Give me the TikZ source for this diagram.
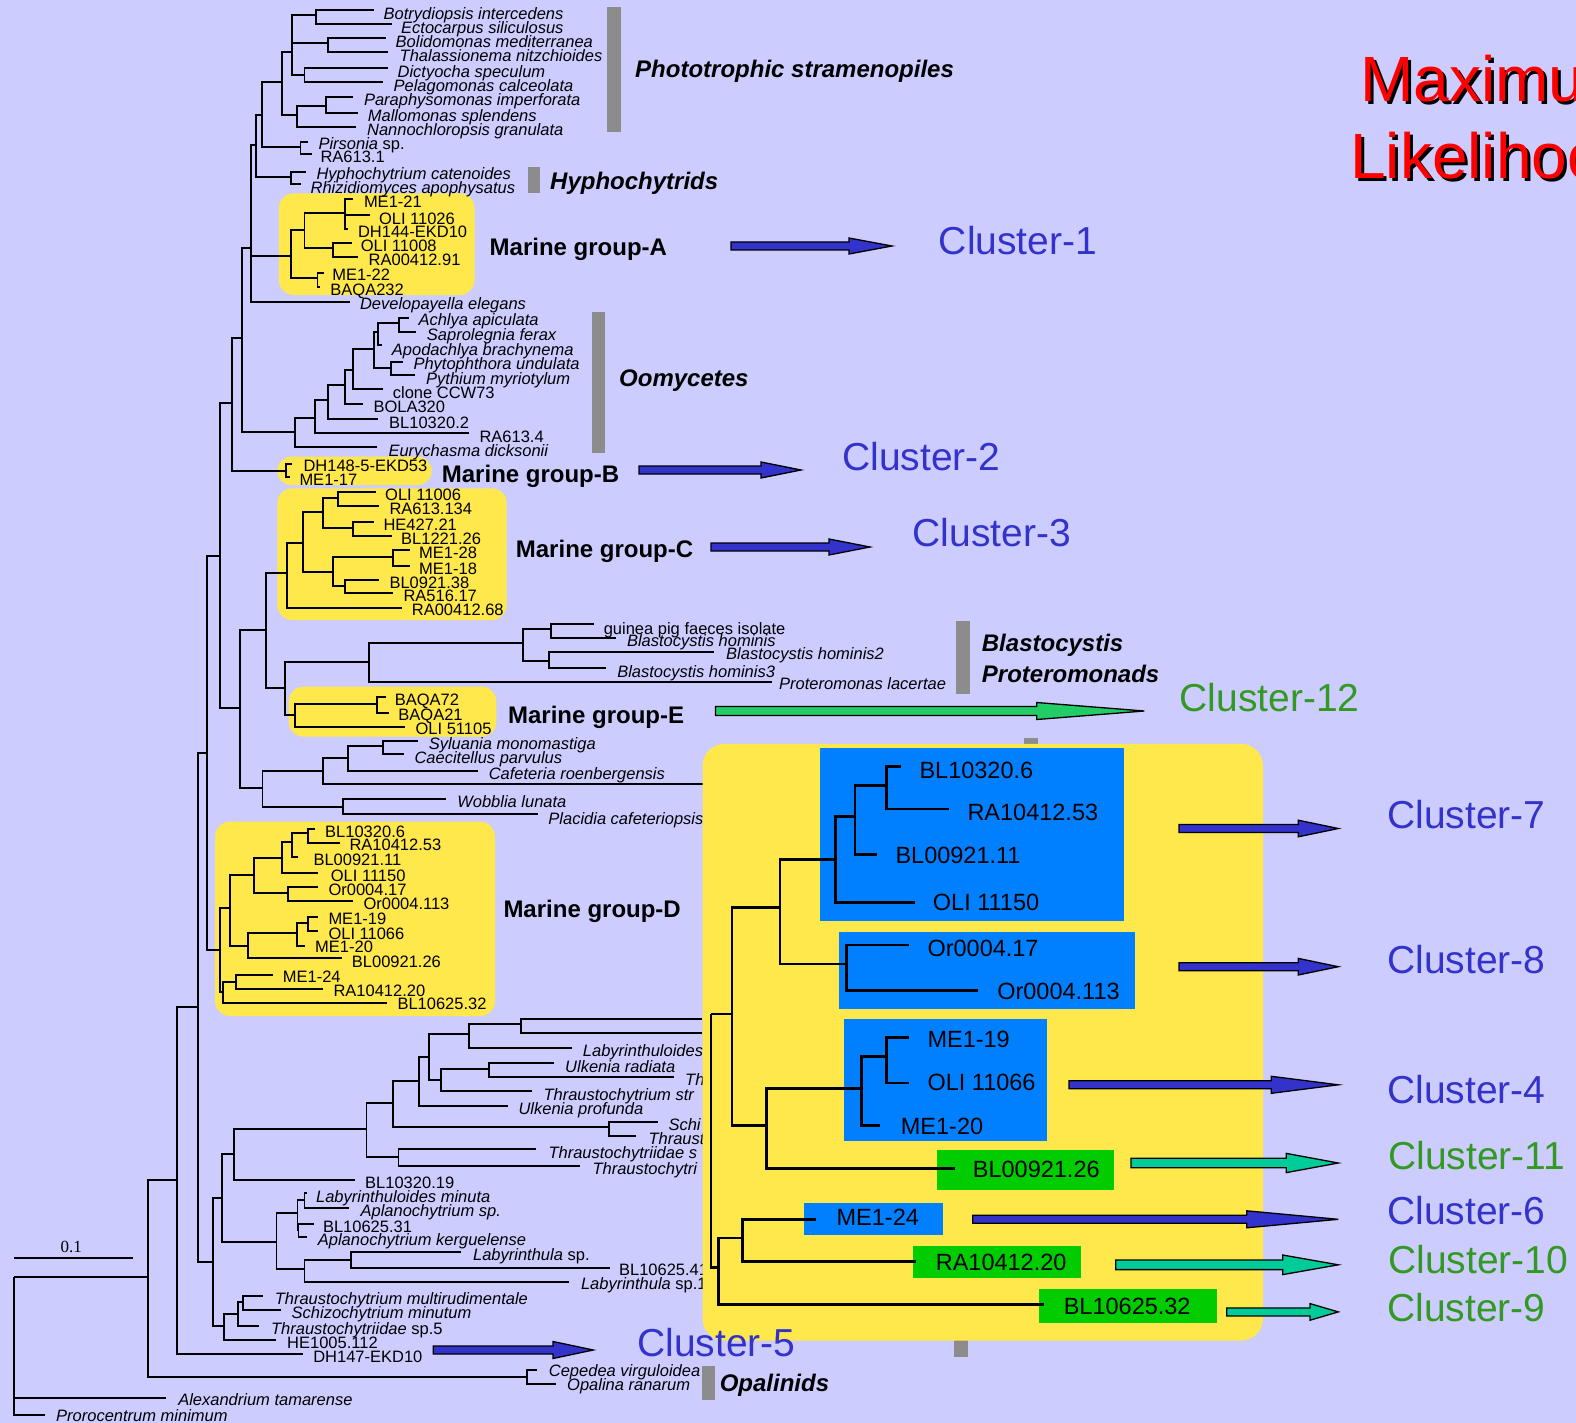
\documentclass[tikz,border=0pt]{standalone}
\usepackage{fontspec}
\setmainfont{Liberation Sans}
\newfontfamily\barfont{Liberation Serif}
\usetikzlibrary{calc}

\definecolor{bg}{HTML}{CCCCFF}
\definecolor{ylw}{HTML}{FFE84C}
\definecolor{bbox}{HTML}{0080FF}
\definecolor{gbox}{HTML}{00CC00}
\definecolor{arrB}{HTML}{3333CC}
\definecolor{arrT}{HTML}{00CC99}
\definecolor{arrG}{HTML}{22CC66}
\definecolor{cluB}{HTML}{3333CC}
\definecolor{cluG}{HTML}{339922}
\definecolor{gbar}{HTML}{8C8C8C}

% internal node #1 at #2, joined to its parent #3 by an elbow
\newcommand\tnode[3]{\coordinate (#1) at (#2);\draw[br] (#3) |- (#1);}
% leaf: end point #1 at #2, parent #3, label style #4 at #5 with text #6
\newcommand\tleaf[6]{\coordinate (#1) at (#2);\draw[br] (#3) |- (#1);\node[#4] (#1-t) at (#5) {#6};}
% block arrow from #1 to tip #2: head length #3, shaft half-width #4, head half-width #5, fill #6
\newcommand\fatarrow[6]{\draw[arrline,fill=#6] let \p1=(#1), \p2=(#2) in
  (\x1,\y1+#4) -- (\x2-#3,\y1+#4) -- (\x2-#3,\y1+#5) -- (\x2,\y1) --
  (\x2-#3,\y1-#5) -- (\x2-#3,\y1-#4) -- (\x1,\y1-#4) -- cycle;}

\tikzset{
  br/.style={line width=1.8pt},
  sp/.style={anchor=west,inner sep=0pt,font=\fontsize{16.5}{19}\selectfont\itshape,text height=11.8pt,text depth=0pt},
  lb/.style={anchor=west,inner sep=0pt,font=\fontsize{16.5}{19}\selectfont,text height=11.8pt,text depth=0pt},
  il/.style={anchor=west,inner sep=0pt,font=\fontsize{23.5}{28}\selectfont,text height=16.8pt,text depth=0pt},
  grp/.style={anchor=west,inner sep=0pt,font=\fontsize{24}{28}\selectfont\bfseries,text height=17.2pt,text depth=0pt},
  grpi/.style={grp,font=\fontsize{24}{28}\selectfont\bfseries\itshape},
  clu/.style={anchor=west,inner sep=0pt,font=\fontsize{39}{44}\selectfont,text height=27.9pt,text depth=0pt},
  arrline/.style={draw=black,line width=1.3pt,line join=miter},
  ttl/.style={anchor=base west,inner sep=0pt,font=\fontsize{64}{70}\selectfont},
}

\begin{document}
\begin{tikzpicture}[x=1pt,y=-1pt]
\useasboundingbox (0,0) rectangle (1576,1423);
\fill[bg] (0,0) rectangle (1576,1423);
\clip (0,0) rectangle (1576,1423);

% grey clade bars
\fill[gbar] (607,6.7) rectangle (621,132);
\fill[gbar] (528,166.7) rectangle (540,192.7);
\fill[gbar] (592,311.7) rectangle (605,453.3);
\fill[gbar] (956,620.7) rectangle (970,694);
\fill[gbar] (1024,737.5) rectangle (1038,760);
\fill[gbar] (954,1320) rectangle (968,1357.3);
\fill[gbar] (702.3,1366) rectangle (715,1400);

% marine group highlight boxes
\fill[ylw,rounded corners=15pt] (278.8,193.3) rectangle (474.5,295);
\fill[ylw,rounded corners=14pt] (277.3,456.7) rectangle (431.7,485);
\fill[ylw,rounded corners=15pt] (277.3,488.3) rectangle (506.7,620);
\fill[ylw,rounded corners=15pt] (288.6,686.7) rectangle (496.4,736.7);
\fill[ylw,rounded corners=15pt] (215,821.7) rectangle (495,1016);

% ---------------- main tree ----------------
\coordinate (R) at (13.8,1276.7);
\tnode{Q}{147.8,1276.7}{R}
\tleaf{alex}{166.2,1398.3}{R}{sp}{178.1,1400}{Alexandrium tamarense}
\tleaf{proro}{44.5,1415}{R}{sp}{56,1416}{Prorocentrum minimum}
\tnode{O}{176.8,1180}{Q}
\tnode{opal}{527,1376.7}{Q}
\tleaf{cep}{537,1370}{opal}{sp}{548.7,1370.7}{Cepedea virguloidea}
\tleaf{opa}{555.6,1384}{opal}{sp}{567,1385}{Opalina ranarum}
\tnode{N}{198.3,1006.7}{O}
\tleaf{dh147}{303,1354}{O}{lb}{313.1,1356.7}{DH147-EKD10}
\tnode{J}{207.3,753.3}{N}
\tnode{P}{212.6,1261.7}{N}
\tnode{I}{220,556}{J}
\tnode{MD}{220,950}{J}
\tnode{H}{231.7,403.3}{I}
\tnode{M}{240,708.3}{I}
\tnode{G}{242,338.3}{H}
\tnode{MB}{286,470.7}{H}
\tnode{F}{251,248}{G}
\tnode{Oo}{295,431.7}{G}
\tnode{E}{256.2,145}{F}
\tnode{MA}{290.6,256}{F}
\tleaf{devel}{350,301.7}{F}{sp}{359.8,303.3}{Developayella elegans}
\tnode{D}{262.2,115}{E}
\tnode{hyp}{290.6,176.7}{E}
\tleaf{hyph}{305.7,171.7}{hyp}{sp}{316.3,173.3}{Hyphochytrium catenoides}
\tleaf{rhiz}{300.5,184.3}{hyp}{sp}{310.4,187.3}{Rhizidiomyces apophysatus}
\tnode{C}{282,81.7}{D}
\tnode{pir}{300.5,146.7}{D}
\tleaf{pirs}{307.6,141.7}{pir}{lb}{318.3,144}{\textit{Pirsonia} sp.}
\tleaf{ra6131}{312.4,154}{pir}{lb}{320.3,156.7}{RA613.1}
\tnode{A1}{291.6,51.7}{C}
\tnode{B}{296.6,115}{C}
\tnode{be}{316,15}{A1}
\tnode{bt}{328,43.3}{A1}
\tnode{dp}{304.5,75}{A1}
\tleaf{botr}{373.7,10.3}{be}{sp}{383.5,14}{Botrydiopsis intercedens}
\tleaf{ecto}{391.5,24.3}{be}{sp}{401,28}{Ectocarpus siliculosus}
\tleaf{boli}{385.5,38.3}{bt}{sp}{395.5,41.7}{Bolidomonas mediterranea}
\tleaf{thal}{387.5,52.3}{bt}{sp}{399.5,56}{Thalassionema nitzchioides}
\tleaf{dict}{387.5,68.3}{dp}{sp}{397.4,71.7}{Dictyocha speculum}
\tleaf{pela}{382.8,81.7}{dp}{sp}{393.4,85.7}{Pelagomonas calceolata}
\tnode{pm}{326.2,106}{B}
\tleaf{para}{353,96.7}{pm}{sp}{363.8,99.3}{Paraphysomonas imperforata}
\tleaf{mall}{357.8,112.7}{pm}{sp}{367.7,116}{Mallomonas splendens}
\tleaf{nann}{355.9,126.7}{B}{sp}{366.9,129.3}{Nannochloropsis granulata}

% marine group A
\tnode{MA1}{304.5,230}{MA}
\tnode{MA3}{317.5,278.3}{MA}
\tnode{MA1a}{345.2,213.3}{MA1}
\tnode{MA1b}{333.3,248.3}{MA1}
\tleaf{me121}{353,199.3}{MA1a}{lb}{363.8,201.7}{ME1-21}
\tleaf{oli11026}{369.7,215}{MA1a}{lb}{378.8,218.3}{OLI 11026}
\tleaf{dh144}{348,229.3}{MA1a}{lb}{357.8,231.7}{DH144-EKD10}
\tleaf{oli11008}{352,243.3}{MA1b}{lb}{360.6,245.7}{OLI 11008}
\tleaf{ra91}{357.8,256.7}{MA1b}{lb}{368.5,260}{RA00412.91}
\tleaf{me122}{324.2,273.3}{MA3}{lb}{332.1,275}{ME1-22}
\tleaf{baqa232}{320,286.7}{MA3}{lb}{330.2,289.3}{BAQA232}

% oomycetes
\tnode{o1}{315,418.3}{Oo}
\tleaf{eury}{376.7,446.7}{Oo}{sp}{388.3,450.7}{Eurychasma dicksonii}
\tnode{o2}{328.3,400}{o1}
\tleaf{ra6134}{469.3,433.3}{o1}{lb}{479.3,436.7}{RA613.4}
\tnode{o3}{345,385}{o2}
\tleaf{bl103202}{378.3,419}{o2}{lb}{389,422.7}{BL10320.2}
\tnode{o4}{352.7,370}{o3}
\tleaf{bola}{363.3,404}{o3}{lb}{373.3,406.7}{BOLA320}
\tnode{o5}{374.3,349.3}{o4}
\tleaf{ccw}{383.3,389.3}{o4}{lb}{392.7,392.7}{clone CCW73}
\tnode{o6}{378.3,331.7}{o5}
\tnode{pp}{391,368.3}{o5}
\tnode{as}{399,323.3}{o6}
\tleaf{apod}{381.7,345}{o6}{sp}{391.7,349.3}{Apodachlya brachynema}
\tleaf{achl}{409.3,318.3}{as}{sp}{418.3,320}{Achlya apiculata}
\tleaf{sapr}{416,331.7}{as}{sp}{426.7,334.3}{Saprolegnia ferax}
\tleaf{phyt}{403.3,361.7}{pp}{sp}{413.3,364}{Phytophthora undulata}
\tleaf{pyth}{415,375}{pp}{sp}{426,379}{Pythium myriotylum}

% marine group B
\tleaf{dh148}{291.7,464}{MB}{lb}{303.3,465.7}{DH148-5-EKD53}
\tleaf{me117}{290,476.7}{MB}{lb}{299.3,480}{ME1-17}

\tnode{K}{266,630}{M}
\tnode{wob}{262.5,788.3}{M}
\tnode{MC}{286.7,573.3}{K}
\tnode{L}{284.6,688.3}{K}

% marine group C
\tnode{c1}{302.7,542.7}{MC}
\tleaf{ra68}{401.7,608.3}{MC}{lb}{411.7,610}{RA00412.68}
\tnode{c2}{322.7,511.7}{c1}
\tnode{c3}{333.3,571.7}{c1}
\tnode{c2a}{338.3,497.7}{c2}
\tnode{c2b}{353.3,528.3}{c2}
\tleaf{oli11006}{375.7,491.7}{c2a}{lb}{385,494.3}{OLI 11006}
\tleaf{ra134}{379.3,505.7}{c2a}{lb}{389.3,508.3}{RA613.134}
\tleaf{he427}{374,521.7}{c2b}{lb}{383.3,524.3}{HE427.21}
\tleaf{bl1221}{391.7,536}{c2b}{lb}{401,538.3}{BL1221.26}
\tnode{c3a}{393.3,557.3}{c3}
\tnode{c3b}{345,586}{c3}
\tleaf{me128}{410,550}{c3a}{lb}{419,552.3}{ME1-28}
\tleaf{me118}{410,565.7}{c3a}{lb}{419,568.3}{ME1-18}
\tleaf{bl0921}{379.3,580}{c3b}{lb}{389.3,582.3}{BL0921.38}
\tleaf{ra516}{393.3,593.3}{c3b}{lb}{403.3,596}{RA516.17}

% blastocystis and marine group E
\tnode{bl}{368.6,661.7}{L}
\tnode{ME}{294.6,715}{L}
\tnode{b1}{523.2,643.3}{bl}
\tleaf{prot}{772,681.7}{bl}{sp}{779,684}{Proteromonas lacertae}
\tnode{b1a}{551,629.3}{b1}
\tnode{b1b}{549,661}{b1}
\tleaf{guin}{593.6,624}{b1a}{lb}{603.6,628.3}{guinea pig faeces isolate}
\tleaf{bhom}{616,638.3}{b1a}{sp}{626.8,641}{Blastocystis hominis}
\tleaf{bhomb}{714.3,651.7}{b1b}{sp}{726,654}{Blastocystis hominis2}
\tleaf{bhomc}{606.4,668.3}{b1b}{sp}{617.1,671.7}{Blastocystis hominis3}
\tnode{e1}{376.8,704}{ME}
\tleaf{oli51105}{405.4,726.7}{ME}{lb}{415.4,728.3}{OLI 51105}
\tleaf{baqa72}{385.7,696.7}{e1}{lb}{394.6,699.3}{BAQA72}
\tleaf{baqa21}{388.6,712.7}{e1}{lb}{398.2,715}{BAQA21}

% bicosoecids
\tnode{w1}{323.2,770.7}{wob}
\tnode{w2}{342.9,806.7}{wob}
\tnode{w1a}{348.2,758.3}{w1}
\coordinate (w1h) at (703,784); \draw[br] (w1) |- (w1h);
\tnode{w1aa}{382.9,746}{w1a}
\tleaf{cafe}{477.9,770.7}{w1a}{sp}{488.6,773.3}{Cafeteria roenbergensis}
\tleaf{sylu}{417.9,740.7}{w1aa}{sp}{428.6,744}{Syluania monomastiga}
\tleaf{caec}{404.3,754}{w1aa}{sp}{414.3,757.7}{Caecitellus parvulus}
\tleaf{wobb}{445.7,799}{w2}{sp}{457.1,801.7}{Wobblia lunata}
\tleaf{plac}{537.5,814.3}{w2}{sp}{548.2,818.3}{Placidia cafeteriopsis}

% marine group D
\tnode{d1}{230,908.3}{MD}
\tnode{d2}{223.3,991.7}{MD}
\tnode{d1a}{254.3,875}{d1}
\tnode{d1b}{248.3,945.7}{d1}
\tnode{d1aa}{281.7,858.3}{d1a}
\tnode{dor}{288.3,893.3}{d1a}
\tnode{d1aaa}{291.7,841.7}{d1aa}
\tleaf{doliA}{318.3,873.3}{d1aa}{lb}{330.7,876}{OLI 11150}
\tnode{dbl6}{308.3,833.3}{d1aaa}
\tleaf{dblA}{298.3,856.7}{d1aaa}{lb}{313.3,860}{BL00921.11}
\tleaf{dblB}{315,829}{dbl6}{lb}{325,831.7}{BL10320.6}
\tleaf{draA}{340,842.7}{dbl6}{lb}{349.3,845}{RA10412.53}
\tleaf{dorA}{318.3,887.3}{dor}{lb}{328.3,889.3}{Or0004.17}
\tleaf{dorB}{353.3,901}{dor}{lb}{363.3,904}{Or0004.113}
\tnode{dme}{296.7,932.7}{d1b}
\tleaf{dblC}{341.7,958.3}{d1b}{lb}{351.7,961.7}{BL00921.26}
\tnode{dmeA}{308.3,922.7}{dme}
\tleaf{dmeB}{305,945.7}{dme}{lb}{315,946.7}{ME1-20}
\tleaf{dmeC}{318.3,917.3}{dmeA}{lb}{328.3,918.3}{ME1-19}
\tleaf{doliB}{318.3,930.7}{dmeA}{lb}{328.3,933.3}{OLI 11066}
\tnode{d2a}{236,981.7}{d2}
\tleaf{dblD}{386.7,1003.3}{d2}{lb}{397.3,1004}{BL10625.32}
\tleaf{dmeD}{272.7,975}{d2a}{lb}{282.7,976.7}{ME1-24}
\tleaf{draB}{323.3,989.3}{d2a}{lb}{333.3,991}{RA10412.20}

% labyrinthulids and thraustochytrids
\tnode{S}{221.8,1197.7}{P}
\tnode{p2}{224,1326}{P}
\tnode{p3}{238.3,1314}{p2}
\tleaf{heA}{275.5,1340}{p2}{lb}{287,1342.7}{HE1005.112}
\tnode{p4}{243.3,1301.7}{p3}
\tleaf{thrA}{259.4,1326}{p3}{lb}{270.9,1329}{\textit{Thraustochytriidae} sp.5}
\tleaf{tmul}{263,1296}{p4}{sp}{274.6,1298.3}{Thraustochytrium multirudimentale}
\tleaf{smin}{281,1310}{p4}{sp}{291.5,1312.3}{Schizochytrium minutum}
\tnode{T}{234.2,1154}{S}
\tnode{U}{276.4,1241.7}{S}
\tnode{V}{366.4,1129.3}{T}
\tleaf{blE}{355,1180}{T}{lb}{365,1182.3}{BL10320.19}
\tnode{W}{392.6,1103.3}{V}
\tnode{vt}{398.4,1157.3}{V}
\tleaf{ths}{536,1149.3}{vt}{sp}{548.3,1152.7}{Thraustochytriidae s}
\tleaf{thri}{580,1165.7}{vt}{sp}{592.3,1168.3}{Thraustochytri}
\tnode{X}{419.3,1080.7}{W}
\tnode{sch}{609.3,1127.3}{W}
\tleaf{schi}{657.7,1121.7}{sch}{sp}{668.3,1125}{Schi}
\tleaf{thrau}{636,1135.7}{sch}{sp}{648.3,1138.3}{Thraust}
\tnode{Y}{429.3,1056.7}{X}
\tleaf{ulkp}{507.7,1106}{X}{sp}{518.3,1108.3}{Ulkenia profunda}
\tnode{Z}{469,1034.3}{Y}
\tnode{yb}{441,1080}{Y}
\tnode{za}{521,1024.3}{Z}
\coordinate (zh1) at (702,1019); \coordinate (zh2) at (702,1033.3);
\draw[br] (za) |- (zh1); \draw[br] (za) |- (zh2);
\tleaf{labh}{571.7,1047.7}{Z}{sp}{582.7,1051}{Labyrinthuloides}
\tnode{ur}{489,1069}{yb}
\tleaf{tstr}{531.7,1091}{yb}{sp}{543.3,1095}{Thraustochytrium str}
\tleaf{ulkr}{554,1062.7}{ur}{sp}{565,1066.7}{Ulkenia radiata}
\tleaf{th}{674.3,1077.3}{ur}{sp}{685,1080}{Th}
\tnode{ua}{297.5,1213.3}{U}
\tnode{ud}{304.4,1269.3}{U}
\tnode{ub}{304.4,1200}{ua}
\tnode{uc}{298.4,1230}{ua}
\tleaf{labm}{307,1193.3}{ub}{sp}{315.9,1196.7}{Labyrinthuloides minuta}
\tleaf{aplsp}{349,1208.3}{ub}{sp}{360.4,1210.7}{Aplanochytrium sp.}
\tleaf{blF}{313.6,1224}{uc}{lb}{322.8,1226.7}{BL10625.31}
\tleaf{aplk}{306.7,1237.3}{uc}{sp}{317.7,1240}{Aplanochytrium kerguelense}
\tnode{ue}{351.2,1260}{ud}
\tleaf{labsA}{569.3,1281.7}{ud}{lb}{580.8,1283.3}{\textit{Labyrinthula} sp.1}
\tleaf{labsB}{461.4,1252.3}{ue}{lb}{472.9,1255}{\textit{Labyrinthula} sp.}
\tleaf{blG}{609.7,1267.7}{ue}{lb}{618.9,1269.3}{BL10625.41}

% scale bar
\coordinate (sbA) at (13.8,1257.7); \coordinate (sbB) at (133.1,1257.7);
\draw[line width=1.6pt] (sbA) -- (sbB);
\node[inner sep=0pt,font=\barfont\fontsize{17}{20}\selectfont] (sbl) at (71.2,1246.7) {0.1};

% clade labels
\node[grpi] (gPh) at (635,69) {Phototrophic stramenopiles};
\node[grpi] (gHy) at (550,181) {Hyphochytrids};
\node[grp]  (gMA) at (489.5,246.7) {Marine group-A};
\node[grpi] (gOo) at (619,378) {Oomycetes};
\node[grp]  (gMB) at (441.7,473.7) {Marine group-B};
\node[grp]  (gMC) at (515.7,548.7) {Marine group-C};
\node[grpi] (gBl) at (981.7,642.5) {Blastocystis};
\node[grpi] (gPr) at (981.7,673.8) {Proteromonads};
\node[grp]  (gME) at (507.9,714.7) {Marine group-E};
\node[grp]  (gMD) at (503.3,908.7) {Marine group-D};
\node[grpi] (gOp) at (719.6,1383.3) {Opalinids};

% ---------------- enlarged marine group D ----------------
\fill[ylw,rounded corners=22pt] (702.5,743.8) rectangle (1263,1340.6);
\fill[bbox] (820,747.8) rectangle (1123.6,921.3);
\fill[bbox] (838.9,932) rectangle (1134.5,1008.9);
\fill[bbox] (844.4,1019.2) rectangle (1046.5,1141.4);
\fill[gbox] (937.1,1150.1) rectangle (1113.5,1189.6);
\fill[bbox] (804,1203.4) rectangle (942.5,1234.9);
\fill[gbox] (913.1,1246) rectangle (1081.1,1277.5);
\fill[gbox] (1038.9,1289) rectangle (1217.1,1322.5);

\begin{scope}[br/.style={line width=2.8pt}]
\coordinate (iR) at (710.9,1014);
\tnode{iA}{732,1014}{iR}
\tnode{iJ}{718.2,1267.3}{iR}
\tnode{iB}{780,907.5}{iA}
\tnode{iG}{766.5,1125.7}{iA}
\tnode{iC}{835.6,859.4}{iB}
\tnode{iF}{846.5,963.9}{iB}
\tnode{iD}{854.9,816.8}{iC}
\tleaf{ioliA}{914.5,902.8}{iC}{il}{932.7,902.5}{OLI 11150}
\tnode{iE}{886.5,785.2}{iD}
\tleaf{iblA}{877.1,854.7}{iD}{il}{895.3,855}{BL00921.11}
\tleaf{iblB}{901.1,766.7}{iE}{il}{919.3,770}{BL10320.6}
\tleaf{iraA}{949.1,808.9}{iE}{il}{967.3,812}{RA10412.53}
\tleaf{iorA}{909.1,945}{iF}{il}{927.3,948}{Or0004.17}
\tleaf{iorB}{978.2,990.4}{iF}{il}{997.1,991.5}{Or0004.113}
\tnode{iH}{861.8,1088.2}{iG}
\tleaf{iblC}{954.5,1168.7}{iG}{il}{972.7,1169.5}{BL00921.26}
\tnode{iI}{886.2,1056.6}{iH}
\tleaf{imeA}{880,1125.7}{iH}{il}{900.7,1126.5}{ME1-20}
\tleaf{imeB}{909.1,1037.7}{iI}{il}{927.3,1039}{ME1-19}
\tleaf{ioliB}{909.1,1083}{iI}{il}{927.3,1082}{OLI 11066}
\tnode{iK}{742.5,1238}{iJ}
\tleaf{iblD}{1043.6,1304.8}{iJ}{il}{1063.6,1306}{BL10625.32}
\tleaf{imeC}{815.6,1219.2}{iK}{il}{836.4,1217.5}{ME1-24}
\tleaf{iraB}{916.4,1261.8}{iK}{il}{935.6,1262.5}{RA10412.20}
\end{scope}

% ---------------- cluster arrows ----------------
\coordinate (a1s) at (731,246);      \coordinate (a1e) at (892,246);
\coordinate (a2s) at (639,470);      \coordinate (a2e) at (801,470);
\coordinate (a3s) at (711,547);      \coordinate (a3e) at (870,547);
\coordinate (a12s) at (715.5,711);   \coordinate (a12e) at (1144.3,711);
\coordinate (a5s) at (433.3,1350);   \coordinate (a5e) at (593.3,1350);
\coordinate (a7s) at (1179,828.5);   \coordinate (a7e) at (1338.3,828.5);
\coordinate (a8s) at (1179,966.7);   \coordinate (a8e) at (1338.3,966.7);
\coordinate (a4s) at (1069,1084.8);  \coordinate (a4e) at (1338.3,1084.8);
\coordinate (a11s) at (1131,1163);   \coordinate (a11e) at (1338.3,1163);
\coordinate (a6s) at (972.7,1219.3); \coordinate (a6e) at (1338.3,1219.3);
\coordinate (a10s) at (1115.7,1264.8); \coordinate (a10e) at (1338.3,1264.8);
\coordinate (a9s) at (1226.7,1311.9);  \coordinate (a9e) at (1338.3,1311.9);
\fatarrow{a1s}{a1e}{43pt}{4pt}{8pt}{arrB}
\fatarrow{a2s}{a2e}{40pt}{4pt}{8pt}{arrB}
\fatarrow{a3s}{a3e}{41pt}{4pt}{8pt}{arrB}
\fatarrow{a12s}{a12e}{107.6pt}{4.5pt}{8.5pt}{arrG}
\fatarrow{a5s}{a5e}{40.3pt}{4pt}{8.5pt}{arrB}
\fatarrow{a7s}{a7e}{40pt}{4pt}{8.3pt}{arrB}
\fatarrow{a8s}{a8e}{40pt}{4pt}{8.3pt}{arrB}
\fatarrow{a4s}{a4e}{67pt}{4pt}{8.5pt}{arrB}
\fatarrow{a11s}{a11e}{52pt}{4.8pt}{9.6pt}{arrT}
\fatarrow{a6s}{a6e}{91.6pt}{4pt}{8.5pt}{arrB}
\fatarrow{a10s}{a10e}{55.6pt}{4.8pt}{9.8pt}{arrT}
\fatarrow{a9s}{a9e}{28.3pt}{4pt}{8.3pt}{arrT}

% cluster names
\node[clu,text=cluB] (cl1) at (938.7,241) {Cluster-1};
\node[clu,text=cluB] (cl2) at (842,457) {Cluster-2};
\node[clu,text=cluB] (cl3) at (912.5,533) {Cluster-3};
\node[clu,text=cluG] (cl12) at (1179.3,697.7) {Cluster-12};
\node[clu,text=cluB] (cl7) at (1387,815) {Cluster-7};
\node[clu,text=cluB] (cl8) at (1387,960) {Cluster-8};
\node[clu,text=cluB] (cl4) at (1387,1089.6) {Cluster-4};
\node[clu,text=cluG] (cl11) at (1388,1155.6) {Cluster-11};
\node[clu,text=cluB] (cl6) at (1387,1211) {Cluster-6};
\node[clu,text=cluG] (cl10) at (1388,1259.3) {Cluster-10};
\node[clu,text=cluG] (cl9) at (1387,1307.4) {Cluster-9};
\node[clu,text=cluB] (cl5) at (637,1343) {Cluster-5};

% title with drop shadow
\node[ttl,text=black] (tAs) at (1363,104.7) {Maximum};
\node[ttl,text=red]   (tA)  at (1360,101.7) {Maximum};
\node[ttl,text=black] (tBs) at (1353,181.3) {Likelihood};
\node[ttl,text=red]   (tB)  at (1350,178.3) {Likelihood};
\end{tikzpicture}
\end{document}
